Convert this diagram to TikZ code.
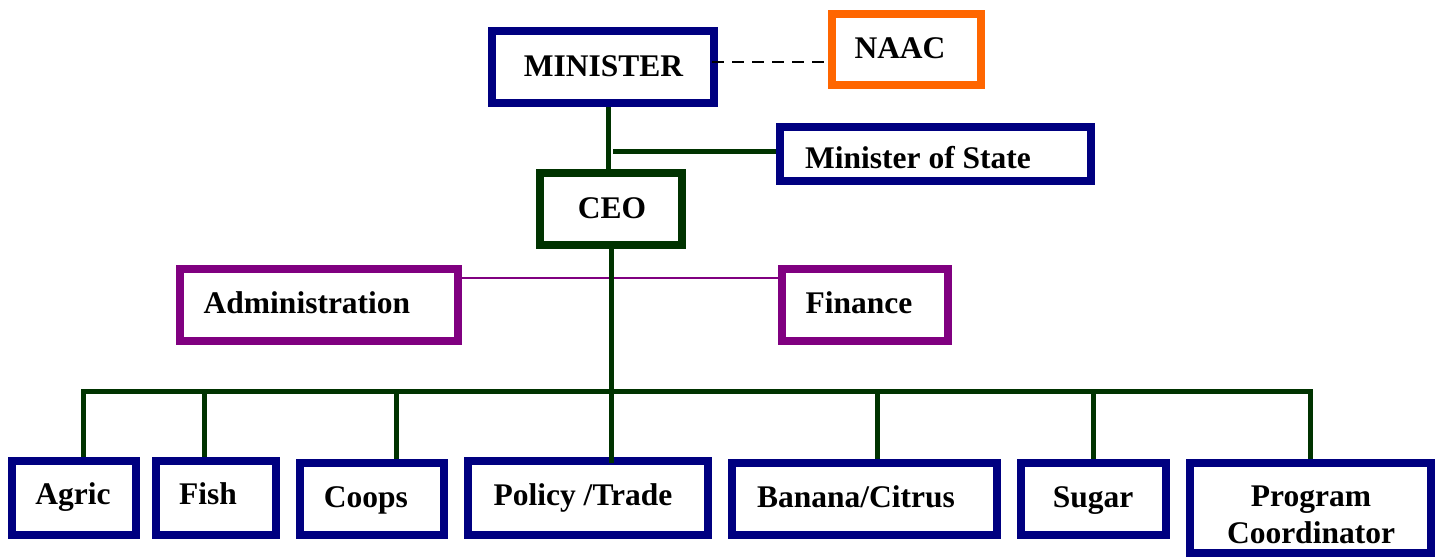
\documentclass[tikz,border=0pt]{standalone}
\usepackage{fontspec}
\setmainfont{Liberation Serif}
\definecolor{navyb}{HTML}{000080}
\definecolor{dgreen}{HTML}{003300}
\definecolor{orangeb}{HTML}{FF6600}
\definecolor{purpb}{HTML}{800080}
\begin{document}
\begin{tikzpicture}[x=1pt,y=-1pt,
  box/.style={draw=#1, line width=8pt, fill=white, rectangle, inner sep=0pt},
  lbl/.style={font=\fontsize{31.5}{37}\selectfont\bfseries, inner sep=0pt, anchor=base, text=black},
  conn/.style={draw=dgreen, line width=5pt},
  thinp/.style={draw=purpb, line width=1.6pt},
  dashline/.style={draw=black, line width=1.4pt, dash pattern=on 12pt off 8pt}]
\useasboundingbox (0,0) rectangle (1436,557);
% boxes
\node[box=navyb, minimum width=222pt, minimum height=72pt] (min) at (603,67) {};
\node[box=orangeb, minimum width=149pt, minimum height=71pt] (naac) at (906.5,49.5) {};
\node[box=navyb, minimum width=311pt, minimum height=54pt] (mos) at (935.5,154) {};
\node[box=dgreen, minimum width=142pt, minimum height=72pt] (ceo) at (611,209) {};
\node[box=purpb, minimum width=278pt, minimum height=72pt] (adm) at (319,305) {};
\node[box=purpb, minimum width=166pt, minimum height=72pt] (fin) at (865,305) {};
\node[box=navyb, minimum width=124pt, minimum height=74pt] (agric) at (74,498) {};
\node[box=navyb, minimum width=120pt, minimum height=74pt] (fish) at (216,498) {};
\node[box=navyb, minimum width=144pt, minimum height=72pt] (coops) at (372,499) {};
\node[box=navyb, minimum width=240pt, minimum height=74pt] (pol) at (588,498) {};
\node[box=navyb, minimum width=265pt, minimum height=72pt] (ban) at (864.5,499) {};
\node[box=navyb, minimum width=145pt, minimum height=72pt] (sug) at (1093.5,499) {};
\node[box=navyb, minimum width=241pt, minimum height=90pt] (prog) at (1310.5,508) {};
\coordinate (bus) at (611,391);
% connectors
\draw[dashline] ([xshift=-6pt,yshift=5pt]min.east) -- ([yshift=5pt]min.east -| naac.west);
\draw[conn] ([xshift=5pt]min.south) -- ([xshift=5pt]min.south |- ceo.north);
\draw[conn] ([yshift=3pt]mos.west) -- ([yshift=3pt,xshift=2pt]mos.west -| ceo.north);
\draw[thinp] ([yshift=27pt]adm.east) -- ([yshift=27pt]fin.west);
\draw[conn] (ceo.south) -- ([yshift=-6pt]ceo.south |- pol.north);
\draw[conn, line join=miter] ([xshift=9pt]agric.north) -- ([xshift=9pt]agric.north |- bus) -| (prog.north);
\draw[conn] ([xshift=-12pt]fish.north) -- ([xshift=-12pt]fish.north |- bus);
\draw[conn] ([xshift=24pt]coops.north) -- ([xshift=24pt]coops.north |- bus);
\draw[conn] ([xshift=12.5pt]ban.north) -- ([xshift=12.5pt]ban.north |- bus);
\draw[conn] (sug.north) -- (sug.north |- bus);
% labels
\node[lbl] (tmin) at (603.5,76) {MINISTER};
\node[lbl] (tnaac) at (900,58) {NAAC};
\node[lbl] (tceo) at (612,218) {CEO};
\node[lbl] (tmos) at (918,168) {Minister of State};
\node[lbl] (tadm) at (307,313) {Administration};
\node[lbl] (tfin) at (859,313) {Finance};
\node[lbl] (tagric) at (73,504) {Agric};
\node[lbl] (tfish) at (208,504) {Fish};
\node[lbl] (tcoops) at (366,507) {Coops};
\node[lbl] (tpol) at (583,505) {Policy /Trade};
\node[lbl] (tban) at (856,507) {Banana/Citrus};
\node[lbl] (tsug) at (1093,507) {Sugar};
\node[lbl, align=center] (tprog) at (1311,543) {Program\\Coordinator};
\end{tikzpicture}
\end{document}
